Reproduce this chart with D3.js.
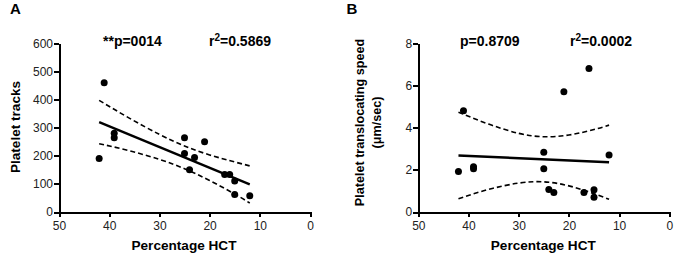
<style>
body {margin:0; background:#fff;}
svg {font-family:'Liberation Sans',Arial,sans-serif;}
.axis path,.axis line {stroke:#000; stroke-width:2; shape-rendering:crispEdges;}
.axis text {font-size:12px; fill:#222;}
.ttl {font-weight:bold; fill:#000;}
</style>
<script src='https://d3js.org/d3.v7.min.js'></script>
<svg id='fig' width='675' height='257'></svg><script>
var hct=[41,42,39,39,25,25,24,23,21,17,16,15,15,12];
var tracks=[460,190,280,264,264,208,150,194,250,133,133,110,62,58];
var speedHct=[41,42,39,39,25,25,24,23,21,16,17,15,15,12];
var speed=[4.8,1.92,2.15,2.05,2.83,2.05,1.07,0.92,5.7,6.8,0.92,1.05,0.7,2.7];
var fitHct=[42,12];
var fitTracks=[320,98.5];
var fitSpeed=[2.68,2.36];
var bandHct=[42,36,30,25,20,15,12];
var tracksUp=[397,334,276,235,203,178,164];
var tracksLo=[243,218,187,154,112,64,32];
var speedUp=[4.73,4.17,3.73,3.57,3.65,3.91,4.12];
var speedLo=[0.63,1.07,1.37,1.43,1.24,0.87,0.60];
var tracksTicks=[0,100,200,300,400,500,600];
var speedTicks=[0,2,4,6,8];
var hctTicks=[50,40,30,20,10,0];

var svg=d3.select('#fig');
var yTop=43.3,yBottom=212;

function panel(o){
  var x=d3.scaleLinear().domain([50,0]).range([o.left,o.left+251]);
  var y=d3.scaleLinear().domain(o.ydom).range([yBottom,yTop]);
  var g=svg.append('g');
  g.append('g').attr('class','axis').attr('transform','translate(0,'+yBottom+')')
   .call(d3.axisBottom(x).tickValues(hctTicks).tickSize(5).tickSizeOuter(0).tickPadding(4));
  g.append('g').attr('class','axis').attr('transform','translate('+o.left+',0)')
   .call(d3.axisLeft(y).tickValues(o.ticks).tickSize(5).tickSizeOuter(0).tickPadding(1));
  var band=d3.line().x((d,i)=>x(bandHct[i])).y(d=>y(d)).curve(d3.curveNatural);
  [o.up,o.lo].forEach(b=>g.append('path').attr('d',band(b))
     .attr('fill','none').attr('stroke','#000').attr('stroke-width',1.6)
     .attr('stroke-dasharray','5,3'));
  g.append('path').attr('d',d3.line().x((d,i)=>x(fitHct[i])).y(d=>y(d))(o.fit))
   .attr('fill','none').attr('stroke','#000').attr('stroke-width',2.4);
  g.selectAll('circle').data(o.vals).enter().append('circle')
   .attr('cx',(d,i)=>x(o.xs[i])).attr('cy',d=>y(d)).attr('r',3.5).attr('fill','#000');
  g.append('text').attr('class','ttl').attr('x',o.left+125).attr('y',250)
   .attr('text-anchor','middle').style('font-size','13.6px').text('Percentage HCT');
  g.append('text').attr('class','ttl').attr('x',o.tx).attr('y',13.5)
   .style('font-size','15px').text(o.tag);
  g.append('text').attr('class','ttl').attr('x',o.px).attr('y',46)
   .style('font-size','14px').text(o.p);
  var t2=g.append('text').attr('class','ttl').attr('x',o.rx).attr('y',46)
   .style('font-size','14px');
  t2.append('tspan').text('r');
  t2.append('tspan').attr('dy',-5).style('font-size','10px').text('2');
  t2.append('tspan').attr('dy',5).text(o.r);
  return g;
}

var gA=panel({left:59,ydom:[0,600],ticks:tracksTicks,xs:hct,vals:tracks,
  fit:fitTracks,up:tracksUp,lo:tracksLo,tag:'A',tx:10,p:'**p=0014',px:103,r:'=0.5869',rx:209});
gA.append('text').attr('class','ttl').attr('transform','translate(20,127) rotate(-90)')
  .attr('text-anchor','middle').style('font-size','13.6px').text('Platelet tracks');

var gB=panel({left:418.3,ydom:[0,8],ticks:speedTicks,xs:speedHct,vals:speed,
  fit:fitSpeed,up:speedUp,lo:speedLo,tag:'B',tx:346.5,p:'p=0.8709',px:460,r:'=0.0002',rx:570});
var yt=gB.append('text').attr('class','ttl').attr('transform','translate(364,122.5) rotate(-90)')
  .attr('text-anchor','middle').style('font-size','12.6px');
yt.append('tspan').attr('x',0).attr('dy',0).text('Platelet translocating speed');
yt.append('tspan').attr('x',0).attr('dy',16.7).text('(\u03bcm/sec)');
</script>
